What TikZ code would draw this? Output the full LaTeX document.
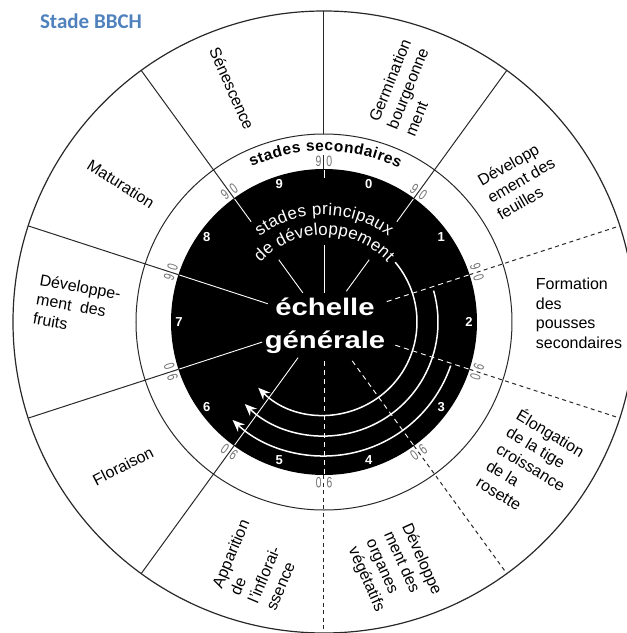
\documentclass[tikz,border=0pt]{standalone}
\usepackage{fontspec}
\setmainfont{Liberation Sans}
\newfontfamily\titlefont{Carlito}
\usetikzlibrary{decorations.text,arrows.meta}
\definecolor{bbchblue}{RGB}{79,129,189}
\definecolor{linegray}{RGB}{40,40,40}
\begin{document}
\begin{tikzpicture}[x=1pt,y=1pt,
  spoke/.style={draw=linegray, line width=1pt},
  dspoke/.style={spoke, dash pattern=on 4pt off 3.5pt},
  wspoke/.style={draw=white, line width=0.9pt},
  wdspoke/.style={wspoke, dash pattern=on 5pt off 4pt},
  outerlabel/.style={font=\fontsize{16}{19.5}\selectfont, align=left, inner sep=0pt},
  stagenum/.style={text=white, font=\bfseries\fontsize{13}{13}\selectfont, inner sep=0pt},
  ringlabel/.style={text=black!55, font=\fontsize{15}{15}\selectfont, inner sep=0pt},
  centertext/.style={text=white, font=\bfseries\fontsize{24}{24}\selectfont, inner sep=0pt, anchor=base, xscale=1.22},
  arrowarc/.style={draw=white, line width=1.5pt, -{Stealth[length=12pt,width=10pt]}}]
\useasboundingbox (-324,-311) rectangle (303,322);
% circles
\draw[linegray, line width=1.2pt] (0,0) circle[radius=311];
\draw[linegray, line width=1pt] (0,0) circle[radius=188];
\fill[black] (0,0) circle[radius=153];
% spokes in the white area
\foreach \a in {54,234,198,162,126} \draw[spoke] (\a:153) -- (\a:311);
\draw[spoke] (90:188) -- (90:311);
\draw[spoke] (90:153) -- (90:167);
\foreach \a in {18,-18,-54,-90} \draw[dspoke] (\a:153) -- (\a:311);
% spokes inside the black disk
\draw[wspoke] (90:152) -- (90:144);
\draw[wspoke] (90:77) -- (90:29);
\draw[wspoke] (126:152) -- (126:124);
\draw[wspoke] (126:77) -- (126:36);
\draw[wspoke] (54:152) -- (54:124);
\draw[wspoke] (54:77) -- (54:38);
\draw[wspoke] (162:152) -- (162:59);
\draw[wspoke] (198:152) -- (198:65);
\draw[wspoke] (234:152) -- (234:44);
\draw[wdspoke] (18:152) -- (18:63);
\draw[wdspoke] (-18:152) -- (-18:72);
\draw[wdspoke] (-54:152) -- (-54:47);
\draw[wdspoke] (-90:152) -- (-90:37);
% arrows
\draw[arrowarc] (40:93) arc[start angle=40, end angle=-135, radius=93];
\draw[arrowarc] (16:114) arc[start angle=16, end angle=-134, radius=114];
\draw[arrowarc] (-19:134) arc[start angle=-19, end angle=-133, radius=134];
% stage numbers
\foreach \n in {0,...,9} \node[stagenum] (n\n) at ({72-36*\n}:145) {\n};
% ring labels
\foreach \a [count=\i] in {90,54,18,-18,-54,-90,-126,-162,162,126}
  \node[ringlabel, rotate=\a-90, xscale=0.7] (r\i) at (\a:161) {9\hspace{7pt}0};
% curved texts
\path[decorate, decoration={text along path, text align={fit to path}, text color=white,
  text={|\fontsize{17}{17}\selectfont|stades principaux}}]
  (127:107) arc[start angle=127, end angle=53, radius=107];
\path[decorate, decoration={text along path, text align={fit to path}, text color=white,
  text={|\fontsize{17}{17}\selectfont|de d{é}veloppement}}]
  (137:87) arc[start angle=137, end angle=43, radius=87];
\path[decorate, decoration={text along path, text align={fit to path}, text color=black,
  text={|\bfseries\fontsize{15.5}{15.5}\selectfont|stades secondaires}}]
  (115:171) arc[start angle=115, end angle=64, radius=171];
% center text
\node[centertext] (ech) at (1,7) {échelle};
\node[centertext] (gen) at (1,-26) {générale};
% outer labels
\node[outerlabel, rotate=-66] (sen) at (111.5:251) {Sénescence};
\node[outerlabel, rotate=68] (ger) at (70.3:249) {Germination\\bourgeonne\\ment};
\node[outerlabel, rotate=30] (feu) at (35.8:243) {Développ\\ement des\\feuilles};
\node[outerlabel] (pou) at (255,8.5) {Formation\\des\\pousses\\secondaires};
\node[outerlabel, rotate=-31] (elo) at (-34.8:252.6) {Élongation\\de la tige\\croissance\\de la\\rosette};
\node[outerlabel, rotate=-66] (veg) at (-74.2:259) {Développe\\ment des\\organes\\végétatifs};
\node[outerlabel, rotate=67] (app) at (-105.3:252) {Apparition\\de\\l'inflorai-\\ssence};
\node[outerlabel, rotate=27] (flo) at (-201,-144) {Floraison};
\node[outerlabel, rotate=-10] (fru) at (-247,16) {Développe-\\ment\ \ des\\fruits};
\node[outerlabel, rotate=-32] (mat) at (-203,138) {Maturation};
% title
\node[font=\titlefont\bfseries\fontsize{21}{21}\selectfont, text=bbchblue, inner sep=0pt] (title) at (-233,301) {Stade BBCH};
\end{tikzpicture}
\end{document}
